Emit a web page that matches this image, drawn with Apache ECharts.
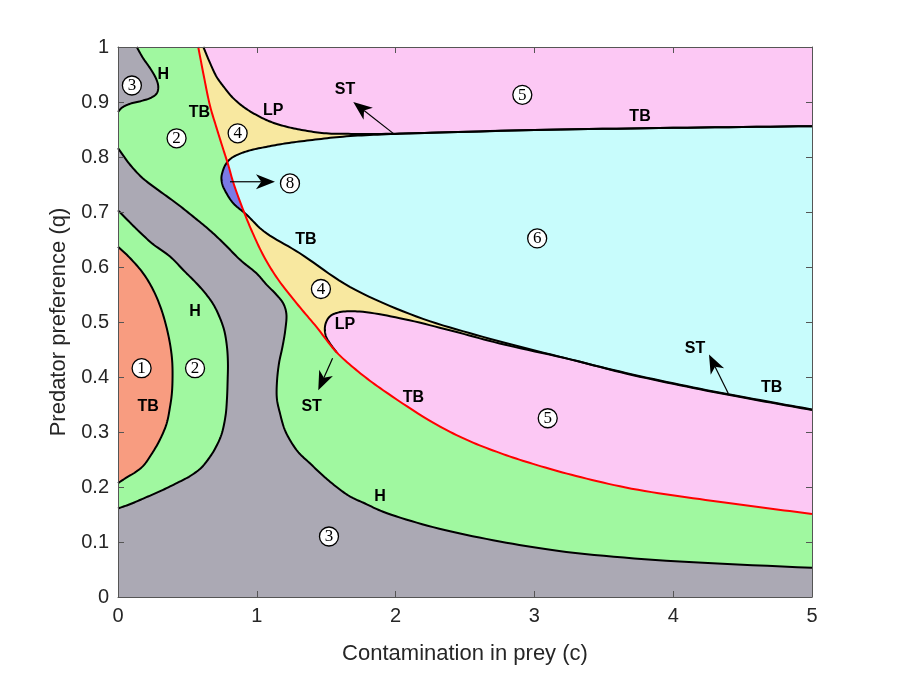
<!DOCTYPE html>
<html>
<head>
<meta charset="utf-8">
<script src="https://cdn.jsdelivr.net/npm/echarts/dist/echarts.min.js"></script>
<style>
  html, body { margin: 0; padding: 0; background: #fff; }
  #main { width: 900px; height: 675px; }
</style>
</head>
<body>
<div id="main"></div>
<script>
// boundary curves, as [c, q]
const curveH_topLeft = [[0.135,1],[0.18,0.98],[0.235,0.96],[0.275,0.942],[0.29,0.928],[0.28,0.916],[0.24,0.908],[0.17,0.902],[0.09,0.897],[0.03,0.89],[0,0.882]];
const curveGrayUpper = [[0,0.816],[0.09,0.785],[0.18,0.761],[0.3,0.738],[0.42,0.716],[0.54,0.692],[0.66,0.667],[0.77,0.641],[0.88,0.613],[1.0,0.588],[1.07,0.568],[1.14,0.55],[1.19,0.534],[1.213,0.515],[1.205,0.485],[1.185,0.455],[1.16,0.425],[1.145,0.39],[1.145,0.36],[1.167,0.334],[1.2,0.305],[1.24,0.285],[1.3,0.263],[1.383,0.243],[1.48,0.22],[1.575,0.2],[1.67,0.183],[1.78,0.17],[1.91,0.155],[2.27,0.127],[2.75,0.101],[3.23,0.082],[3.95,0.066],[5,0.053]];
const curveGrayLower = [[0,0.703],[0.07,0.685],[0.15,0.665],[0.25,0.642],[0.375,0.619],[0.48,0.592],[0.567,0.57],[0.63,0.552],[0.687,0.532],[0.73,0.51],[0.765,0.485],[0.785,0.455],[0.792,0.425],[0.79,0.395],[0.785,0.36],[0.775,0.33],[0.745,0.295],[0.7,0.27],[0.663,0.255],[0.6,0.235],[0.52,0.22],[0.423,0.207],[0.3,0.192],[0.182,0.179],[0.09,0.169],[0,0.161]];
const curveOrange = [[0,0.637],[0.08,0.618],[0.18,0.589],[0.25,0.56],[0.305,0.528],[0.345,0.495],[0.375,0.46],[0.39,0.43],[0.393,0.4],[0.388,0.37],[0.375,0.346],[0.35,0.315],[0.3,0.285],[0.24,0.259],[0.18,0.238],[0.12,0.226],[0.06,0.217],[0,0.207]];
const curveRed = [[0.578,1],[0.62,0.945],[0.663,0.893],[0.71,0.853],[0.757,0.815],[0.795,0.785],[0.83,0.754],[0.9,0.705],[0.97,0.662],[1.06,0.615],[1.16,0.575],[1.3,0.53],[1.43,0.491],[1.575,0.445],[1.73,0.41],[1.91,0.376],[2.27,0.317],[2.51,0.286],[2.75,0.262],[2.99,0.242],[3.3,0.22],[3.7,0.197],[4.19,0.178],[4.6,0.164],[5,0.151]];
const curveLPTop = [[0.615,1],[0.663,0.971],[0.71,0.946],[0.77,0.925],[0.83,0.907],[0.91,0.89],[1.0,0.876],[1.1,0.864],[1.215,0.855],[1.35,0.848],[1.5,0.843],[1.7,0.842],[1.9,0.842],[2.25,0.844],[3,0.849],[4,0.853],[5,0.856]];
const curveCyan = [[5,0.856],[4,0.853],[3,0.849],[2.25,0.844],[1.9,0.841],[1.62,0.837],[1.4,0.831],[1.215,0.825],[1.08,0.819],[0.95,0.812],[0.86,0.804],[0.807,0.796],[0.772,0.785],[0.752,0.772],[0.745,0.762],[0.752,0.75],[0.775,0.737],[0.83,0.716],[0.927,0.695],[1.05,0.665],[1.31,0.625],[1.67,0.564],[2.15,0.51],[2.63,0.473],[3.18,0.437],[3.665,0.407],[4.145,0.381],[4.625,0.358],[5,0.341]];
const curveLPBottom = [[1.575,0.445],[1.53,0.46],[1.5,0.473],[1.49,0.487],[1.5,0.5],[1.53,0.511],[1.6,0.518],[1.74,0.519],[2.03,0.507],[2.39,0.485],[2.75,0.461],[3.26,0.432],[3.665,0.406],[4.145,0.38],[4.625,0.357],[5,0.34]];

// annotations
const labelText = ['H','TB','LP','ST','TB','TB','H','LP','TB','ST','TB','ST','TB','H'];
const labelPos = [[0.326,0.949],[0.586,0.881],[1.119,0.885],[1.635,0.923],[3.761,0.874],[1.354,0.650],[0.555,0.519],[1.635,0.495],[0.218,0.347],[1.395,0.346],[2.128,0.363],[4.157,0.452],[4.709,0.381],[1.888,0.182]];
const regionNum = ['3','2','4','8','5','6','4','1','2','5','3'];
const regionPos = [[0.1,0.93],[0.422,0.834],[0.862,0.843],[1.239,0.752],[2.913,0.913],[3.02,0.652],[1.462,0.56],[0.17,0.416],[0.555,0.416],[3.096,0.325],[1.52,0.11]];
const arrows = [[1.983,0.843,1.695,0.9],[4.397,0.37,4.258,0.441],[1.546,0.434,1.443,0.376],[0.807,0.755,1.131,0.755]];

const colGray = '#ABA9B4', colGreen = '#A0F8A0', colOrange = '#F89C80', colYellow = '#F8E8A0',
      colPink = '#FCC8F4', colCyan = '#C8FCFC', colBlue = '#7A7AE6';
const axisFont = 'Liberation Sans, Arial, Helvetica, sans-serif';

// red curve c as a function of q (red is monotone)
function redC(q) {
  for (let i = 0; i < curveRed.length - 1; i++) {
    const a = curveRed[i], b = curveRed[i + 1];
    if (q <= a[1] && q >= b[1]) {
      const t = (a[1] - q) / (a[1] - b[1]);
      return a[0] + t * (b[0] - a[0]);
    }
  }
  return -1;
}

// part of the cyan nose that lies left of the red curve
function noseRegion() {
  const side = p => p[0] - redC(p[1]);
  const out = [];
  const cross = [];
  for (let i = 0; i < curveCyan.length - 1; i++) {
    const a = curveCyan[i], b = curveCyan[i + 1];
    const fa = side(a), fb = side(b);
    if (fa >= 0 && fb < 0) {
      const t = fa / (fa - fb);
      cross.push([a[0] + t * (b[0] - a[0]), a[1] + t * (b[1] - a[1])]);
      out.push(cross[cross.length - 1]);
    }
    if (fb < 0) out.push(b);
    if (fa < 0 && fb >= 0) {
      const t = fa / (fa - fb);
      const p = [a[0] + t * (b[0] - a[0]), a[1] + t * (b[1] - a[1])];
      cross.push(p);
      out.push(p);
      break;
    }
  }
  const qTop = cross[0][1], qBot = cross[1][1];
  const between = curveRed.filter(p => p[1] > qBot && p[1] < qTop).reverse();
  return [out, between];
}

// centripetal Catmull-Rom through pixel points (drawing only)
function smoothPx(p) {
  if (p.length < 3) return p;
  const n = p.length;
  const ext = [[2 * p[0][0] - p[1][0], 2 * p[0][1] - p[1][1]]].concat(p, [[2 * p[n - 1][0] - p[n - 2][0], 2 * p[n - 1][1] - p[n - 2][1]]]);
  const out = [p[0]];
  const d = (a, b) => Math.max(Math.sqrt(Math.hypot(b[0] - a[0], b[1] - a[1])), 1e-4);
  const lerp = (a, b, ta, tb, t) => [
    ((tb - t) * a[0] + (t - ta) * b[0]) / (tb - ta),
    ((tb - t) * a[1] + (t - ta) * b[1]) / (tb - ta)
  ];
  for (let i = 1; i < ext.length - 2; i++) {
    const P0 = ext[i - 1], P1 = ext[i], P2 = ext[i + 1], P3 = ext[i + 2];
    const t0 = 0, t1 = t0 + d(P0, P1), t2 = t1 + d(P1, P2), t3 = t2 + d(P2, P3);
    const steps = 10;
    for (let k = 1; k <= steps; k++) {
      const t = t1 + (t2 - t1) * k / steps;
      const A1 = lerp(P0, P1, t0, t1, t), A2 = lerp(P1, P2, t1, t2, t), A3 = lerp(P2, P3, t2, t3, t);
      const B1 = lerp(A1, A2, t0, t2, t), B2 = lerp(A2, A3, t1, t3, t);
      out.push(lerp(B1, B2, t1, t2, t));
    }
  }
  return out;
}

function fillSeries(pieces, color) {
  return {
    type: 'custom',
    coordinateSystem: 'cartesian2d',
    silent: true,
    z: 2,
    data: [[pieces[0][0][0], pieces[0][0][1]]],
    renderItem: function (params, api) {
      let pts = [];
      pieces.forEach(piece => { pts = pts.concat(smoothPx(piece.map(p => api.coord(p)))); });
      return { type: 'polygon', shape: { points: pts }, style: { fill: color } };
    }
  };
}

function lineSeries(curve, color) {
  return {
    type: 'custom',
    coordinateSystem: 'cartesian2d',
    silent: true,
    z: 5,
    data: [[curve[0][0], curve[0][1]]],
    renderItem: function (params, api) {
      return {
        type: 'polyline',
        shape: { points: smoothPx(curve.map(p => api.coord(p))) },
        style: { stroke: color, lineWidth: 2, fill: null, lineJoin: 'round' }
      };
    }
  };
}

const redRight = curveRed.filter(p => p[0] >= 1.575).reverse();

const chart = echarts.init(document.getElementById('main'), null, { renderer: 'canvas' });

function axisCommon(extra) {
  return Object.assign({
    type: 'value',
    axisLine: { show: true, onZero: false, lineStyle: { color: '#555', width: 1 } },
    axisTick: { show: true, inside: true, length: 6, lineStyle: { color: '#555', width: 1 } },
    splitLine: { show: false },
    z: 20
  }, extra);
}

const option = {
  animation: false,
  grid: { left: 118, right: 88, top: 47, bottom: 78, show: true, backgroundColor: colGray, borderWidth: 0 },
  xAxis: [
    axisCommon({
      min: 0, max: 5, interval: 1, position: 'bottom',
      name: 'Contamination in prey (c)', nameLocation: 'middle', nameGap: 46,
      nameTextStyle: { fontSize: 22, color: '#262626', fontFamily: axisFont },
      axisLabel: { fontSize: 20, color: '#262626', margin: 9, fontFamily: axisFont }
    }),
    axisCommon({ min: 0, max: 5, interval: 1, position: 'top', axisLabel: { show: false } })
  ],
  yAxis: [
    axisCommon({
      min: 0, max: 1, interval: 0.1, position: 'left',
      name: 'Predator preference (q)', nameLocation: 'middle', nameGap: 41,
      nameTextStyle: { fontSize: 22, color: '#262626', fontFamily: axisFont },
      axisLabel: { fontSize: 20, color: '#262626', margin: 9, fontFamily: axisFont }
    }),
    axisCommon({ min: 0, max: 1, interval: 0.1, position: 'right', axisLabel: { show: false } })
  ],
  series: [
    fillSeries([curveGrayUpper, [[5, 1]], curveH_topLeft], colGreen),
    fillSeries([curveGrayLower], colGreen),
    fillSeries([curveOrange], colOrange),
    fillSeries([curveRed, [[5, 1]]], colYellow),
    fillSeries([curveLPTop, [[5, 1]]], colPink),
    fillSeries([curveCyan], colCyan),
    fillSeries([curveLPBottom, redRight], colPink),
    fillSeries(noseRegion(), colBlue),
    lineSeries(curveH_topLeft, '#000'),
    lineSeries(curveGrayUpper, '#000'),
    lineSeries(curveGrayLower, '#000'),
    lineSeries(curveOrange, '#000'),
    lineSeries(curveLPTop, '#000'),
    lineSeries(curveCyan, '#000'),
    lineSeries(curveLPBottom, '#000'),
    lineSeries(curveRed, '#FF0000'),
    {
      // arrows
      type: 'custom',
      silent: true,
      z: 10,
      data: arrows,
      encode: { x: [0, 2], y: [1, 3] },
      renderItem: function (params, api) {
        const p1 = api.coord([api.value(0), api.value(1)]);
        const p2 = api.coord([api.value(2), api.value(3)]);
        const dx = p2[0] - p1[0], dy = p2[1] - p1[1];
        const len = Math.sqrt(dx * dx + dy * dy);
        const ux = dx / len, uy = dy / len, nx = -uy, ny = ux;
        const L = 19, W = 15;
        const back = [p2[0] - ux * L, p2[1] - uy * L];
        const notch = [p2[0] - ux * L * 0.72, p2[1] - uy * L * 0.72];
        return {
          type: 'group',
          children: [
            { type: 'line', shape: { x1: p1[0], y1: p1[1], x2: notch[0], y2: notch[1] }, style: { stroke: '#000', lineWidth: 1.2 } },
            { type: 'polygon', shape: { points: [p2, [back[0] + nx * W / 2, back[1] + ny * W / 2], notch, [back[0] - nx * W / 2, back[1] - ny * W / 2]] }, style: { fill: '#000' } }
          ]
        };
      }
    },
    {
      // circled region numbers
      type: 'custom',
      silent: true,
      z: 11,
      data: regionPos,
      renderItem: function (params, api) {
        const p = api.coord([api.value(0), api.value(1)]);
        return {
          type: 'group',
          children: [
            { type: 'circle', shape: { cx: p[0], cy: p[1], r: 9.5 }, style: { fill: '#fff', stroke: '#000', lineWidth: 1.3 } },
            { type: 'text', x: p[0], y: p[1] + 0.5, style: { text: regionNum[params.dataIndex], font: '17px "Liberation Serif", "DejaVu Serif", serif', fill: '#000', align: 'center', verticalAlign: 'middle' } }
          ]
        };
      }
    },
    {
      // bifurcation labels
      type: 'custom',
      silent: true,
      z: 11,
      data: labelPos,
      renderItem: function (params, api) {
        const p = api.coord([api.value(0), api.value(1)]);
        return {
          type: 'text', x: p[0], y: p[1],
          style: { text: labelText[params.dataIndex], font: 'bold 16px "Liberation Sans", Arial, sans-serif', fill: '#000', align: 'center', verticalAlign: 'middle' }
        };
      }
    }
  ]
};

chart.setOption(option);
</script>
</body>
</html>
